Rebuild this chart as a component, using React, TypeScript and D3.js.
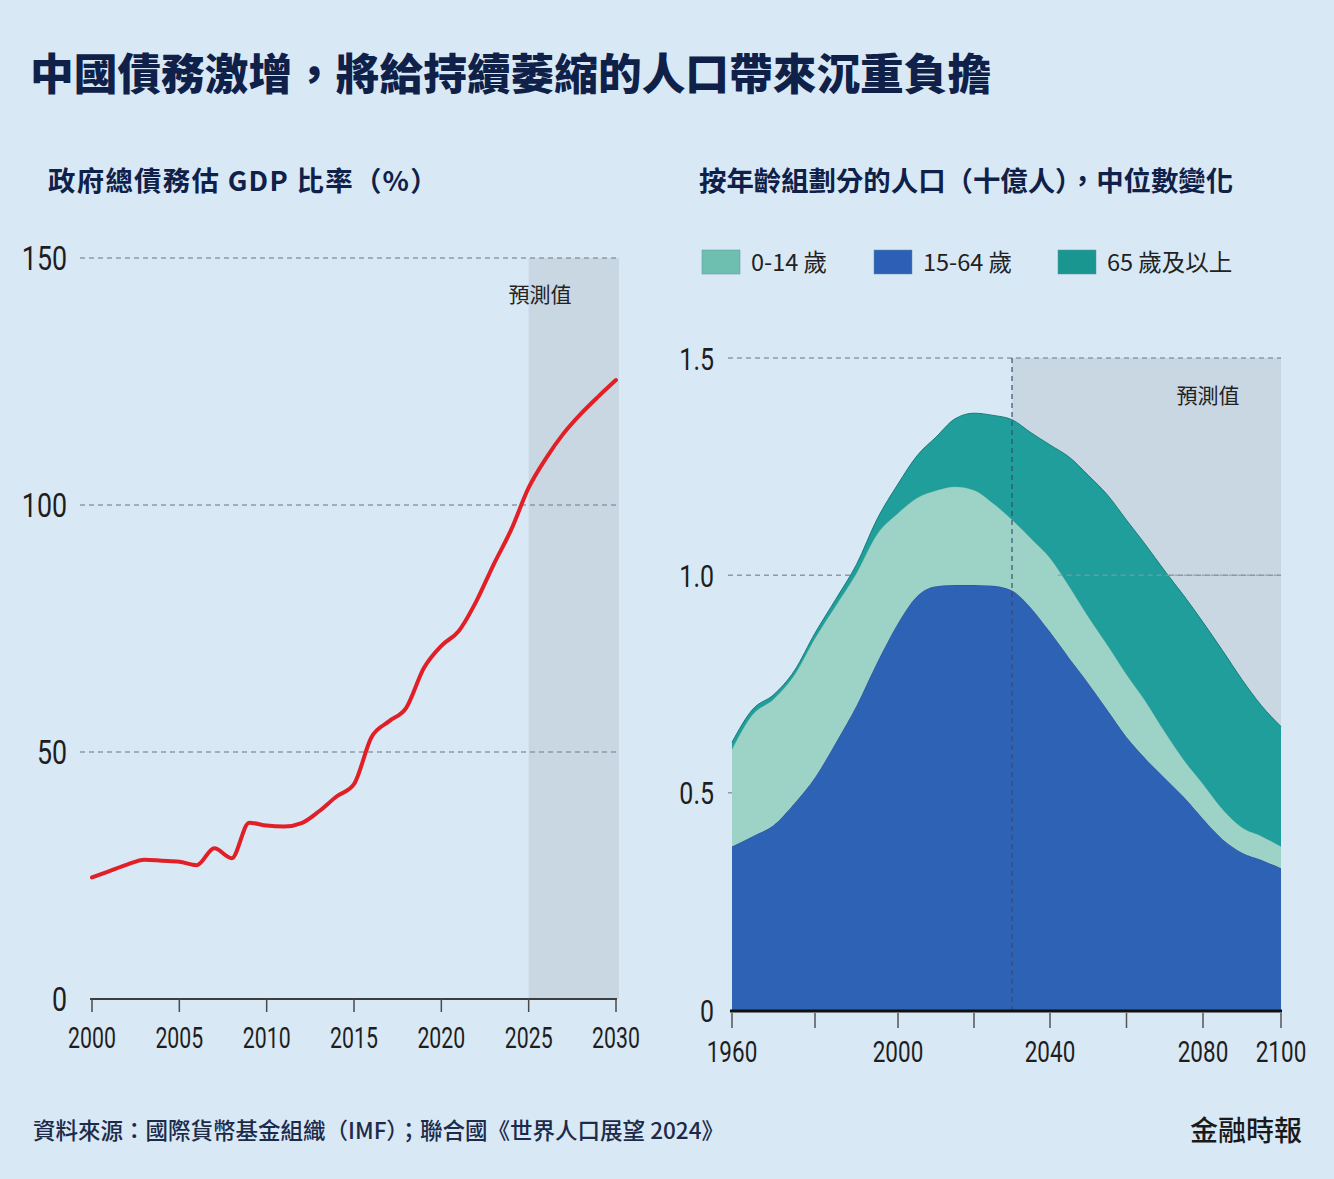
import * as d3 from "d3";

// 政府總債務估 GDP 比率（%）
const debtYears = [2000, 2001, 2002, 2003, 2004, 2005, 2006, 2007, 2008, 2009, 2010, 2011, 2012, 2013, 2014, 2015,
  2016, 2017, 2018, 2019, 2020, 2021, 2022, 2023, 2024, 2025, 2026, 2027, 2028, 2029, 2030];
const debtRatio = [24.6, 25.9, 27.2, 28.2, 28.0, 27.8, 27.1, 30.5, 28.5, 35.7, 35.1, 34.9, 35.6, 38.0, 41.0, 43.5,
  53.0, 56.2, 59.0, 67.0, 71.5, 74.5, 80.5, 88.0, 95.0, 103.5, 109.5, 114.5, 118.5, 122.0, 125.3];
const debtForecastStart = 2025;
const debtTicksX = [2000, 2005, 2010, 2015, 2020, 2025, 2030];
const debtTicksY = [0, 50, 100, 150];

// 按年齡組劃分的人口（十億人）
const popYears = [1960, 1965, 1970, 1975, 1980, 1985, 1990, 1995, 2000, 2005, 2010, 2015, 2020, 2025, 2030,
  2035, 2040, 2045, 2050, 2055, 2060, 2065, 2070, 2075, 2080, 2085, 2090, 2095, 2100];
const popWorking = [0.376, 0.40, 0.425, 0.475, 0.535, 0.615, 0.70, 0.80, 0.89, 0.952, 0.975, 0.978, 0.978, 0.976, 0.965,
  0.925, 0.87, 0.81, 0.752, 0.69, 0.628, 0.578, 0.534, 0.49, 0.44, 0.393, 0.362, 0.345, 0.326];
const popChildren = [0.224, 0.28, 0.29, 0.295, 0.32, 0.315, 0.305, 0.295, 0.253, 0.226, 0.22, 0.226, 0.218, 0.19, 0.163,
  0.16, 0.17, 0.165, 0.153, 0.15, 0.144, 0.132, 0.106, 0.085, 0.08, 0.069, 0.058, 0.055, 0.05];
const popElderly = [0.016, 0.012, 0.01, 0.01, 0.012, 0.015, 0.02, 0.035, 0.067, 0.097, 0.123, 0.156, 0.177, 0.202, 0.23,
  0.243, 0.26, 0.297, 0.325, 0.345, 0.355, 0.36, 0.37, 0.378, 0.372, 0.365, 0.34, 0.30, 0.276];
const popForecastStart = 2030;
const popTicksX = [1960, 1980, 2000, 2020, 2040, 2060, 2080, 2100];
const popLabelsX = [1960, 2000, 2040, 2080, 2100];
const popTicksY = [0, 0.5, 1.0, 1.5];
const popLabelsY = ["0", "0.5", "1.0", "1.5"];

const legendNames = ["0-14 歲", "15-64 歲", "65 歲及以上"];
const legendColors = ["#6fbfb1", "#2e5fb6", "#1a9690"];

const W = 1334;
const H = 1179;
const BG = "#d9e8f5";
const SHADE = "#c9d7e3";
const NAVY = "#0f2149";
const CJK = "'Noto Sans CJK TC', 'Noto Sans CJK SC', sans-serif";
const NUM = "Roboto, 'Noto Sans', sans-serif";
const GRID = "#8c99aa";

// condensed numeric label: a regular face squeezed horizontally
function Num(props: { x: number; y: number; size: number; sx: number; anchor: string; children: any; dy?: string }) {
  const { x, y, size, sx, anchor, children, dy } = props;
  return (
    <text transform={`translate(${x},${y}) scale(${sx},1)`} dy={dy} textAnchor={anchor}
      fontFamily={NUM} fontWeight={400} fontSize={size} fill="#1e1e1e">
      {children}
    </text>
  );
}

export default function App() {
  // left panel scales
  const dx = d3.scaleLinear().domain([2000, 2030]).range([92, 616]);
  const dy = d3.scaleLinear().domain([0, 150]).range([999, 258]);
  const debtLine = d3.line<number>()
    .x((_, i) => dx(debtYears[i]))
    .y((v) => dy(v))
    .curve(d3.curveMonotoneX);

  // right panel scales; the year axis is spaced a little unevenly
  const px = d3.scaleLinear().domain([1960, 2000, 2040, 2080, 2100]).range([732, 898, 1050, 1203, 1281]);
  const py = d3.scaleLinear().domain([0, 1.5]).range([1010, 358]);

  const rows = popYears.map((year, i) => ({
    year,
    working: popWorking[i],
    children: popChildren[i],
    elderly: popElderly[i],
  }));
  const keys = ["working", "children", "elderly"];
  const stacked = d3.stack<any>().keys(keys)(rows);
  const area = d3.area<any>()
    .x((d) => px(d.data.year))
    .y0((d) => py(d[0]))
    .y1((d) => py(d[1]))
    .curve(d3.curveMonotoneX);
  const topLine = d3.line<any>()
    .x((d) => px(d.data.year))
    .y((d) => py(d[1]))
    .curve(d3.curveMonotoneX);
  const fills: Record<string, string> = { working: "#2e62b5", children: "#9dd3c7", elderly: "#1f9e9b" };
  const edges: Record<string, string> = { working: "#234f93", children: "#7fbdb0", elderly: "#167c79" };

  return (
    <svg width={W} height={H} style={{ position: "absolute", left: 0, top: 0, display: "block" }}>
      <rect x={0} y={0} width={W} height={H} fill={BG} />

      <text x={30} y={90} fontFamily={CJK} fontWeight={900} fontSize={43.7} fill={NAVY}>
        中國債務激增，將給持續萎縮的人口帶來沉重負擔
      </text>

      {/* left: debt ratio */}
      <text x={48} y={191} fontFamily={CJK} fontWeight={700} fontSize={27.4} letterSpacing={1.3} fill={NAVY}>
        政府總債務估 GDP 比率（%）
      </text>
      <rect x={dx(debtForecastStart)} y={dy(150)} width={dx(2030) + 3 - dx(debtForecastStart)}
        height={dy(0) - dy(150)} fill={SHADE} />
      {debtTicksY.filter((t) => t > 0).map((t) => (
        <line key={t} x1={80} x2={t === 150 ? 620 : 617} y1={dy(t)} y2={dy(t)}
          stroke={GRID} strokeWidth={1.5} strokeDasharray="5 4" />
      ))}
      {debtTicksY.map((t) => (
        <Num key={t} x={67} y={dy(t)} dy="0.36em" size={33.5} sx={0.8} anchor="end">{t}</Num>
      ))}
      <text x={540} y={302} textAnchor="middle" fontFamily={CJK} fontSize={21} fill="#222">預測值</text>
      <path d={debtLine(debtRatio) ?? ""} fill="none" stroke="#e11f26" strokeWidth={4}
        strokeLinecap="round" strokeLinejoin="round" />
      <line x1={90} x2={617} y1={dy(0)} y2={dy(0)} stroke="#3d3d3d" strokeWidth={2} />
      {debtTicksX.map((t) => (
        <g key={t}>
          <line x1={dx(t)} x2={dx(t)} y1={dy(0)} y2={dy(0) + 13} stroke="#4a4a4a" strokeWidth={1.5} />
          <Num x={dx(t)} y={1048} size={30} sx={0.71} anchor="middle">{t}</Num>
        </g>
      ))}

      {/* right: population by age group */}
      <text x={699} y={191} fontFamily={CJK} fontWeight={700} fontSize={27.4} fill={NAVY}>
        按年齡組劃分的人口（十億人），中位數變化
      </text>
      {legendNames.map((name, i) => {
        const lx = [702, 874, 1058][i];
        return (
          <g key={name}>
            <rect x={lx} y={250} width={38} height={24} fill={legendColors[i]} stroke="#5a8fa0" strokeWidth={0.5} />
            <text x={lx + 49} y={271} fontFamily={CJK} fontSize={23.5} fill="#222">{name}</text>
          </g>
        );
      })}
      <rect x={px(popForecastStart)} y={py(1.5)} width={px(2100) - px(popForecastStart)}
        height={py(0) - py(1.5)} fill={SHADE} />
      {popTicksY.filter((t) => t > 0).map((t) => (
        <line key={t} x1={728} x2={1281} y1={py(t)} y2={py(t)}
          stroke={GRID} strokeWidth={1.5} strokeDasharray="5 4" />
      ))}
      {stacked.map((s) => (
        <g key={s.key}>
          <path d={area(s) ?? ""} fill={fills[s.key]} />
          <path d={topLine(s) ?? ""} fill="none" stroke={edges[s.key]} strokeWidth={1} />
        </g>
      ))}
      {/* the 1.0 gridline shows through the forecast part of the 65+ band */}
      <line x1={px(2042)} x2={1281} y1={py(1.0)} y2={py(1.0)}
        stroke={GRID} strokeOpacity={0.7} strokeWidth={1.5} strokeDasharray="5 4" />
      <line x1={px(popForecastStart)} x2={px(popForecastStart)} y1={py(1.5)} y2={py(0)}
        stroke="#34476b" strokeOpacity={0.75} strokeWidth={1.5} strokeDasharray="5 4" />
      <text x={1208} y={403} textAnchor="middle" fontFamily={CJK} fontSize={21} fill="#222">預測值</text>
      {popTicksY.map((t, i) => (
        <Num key={t} x={714} y={py(t)} dy="0.36em" size={32} sx={0.78} anchor="end">{popLabelsY[i]}</Num>
      ))}
      <line x1={730} x2={1282} y1={py(0) + 1} y2={py(0) + 1} stroke="#111" strokeWidth={3} />
      {popTicksX.map((t) => (
        <line key={t} x1={px(t)} x2={px(t)} y1={py(0) + 3} y2={py(0) + 18} stroke="#555" strokeWidth={1.5} />
      ))}
      {popLabelsX.map((t) => (
        <Num key={t} x={px(t)} y={1062} size={30} sx={0.75} anchor="middle">{t}</Num>
      ))}

      {/* footer */}
      <text x={33} y={1139} fontFamily={CJK} fontWeight={500} fontSize={22.5} fill="#1c2b4a">
        資料來源：國際貨幣基金組織（IMF）；聯合國《世界人口展望 2024》
      </text>
      <text x={1302} y={1141} textAnchor="end" fontFamily={CJK} fontWeight={500} fontSize={28} fill="#1a1a1a">
        金融時報
      </text>
    </svg>
  );
}
